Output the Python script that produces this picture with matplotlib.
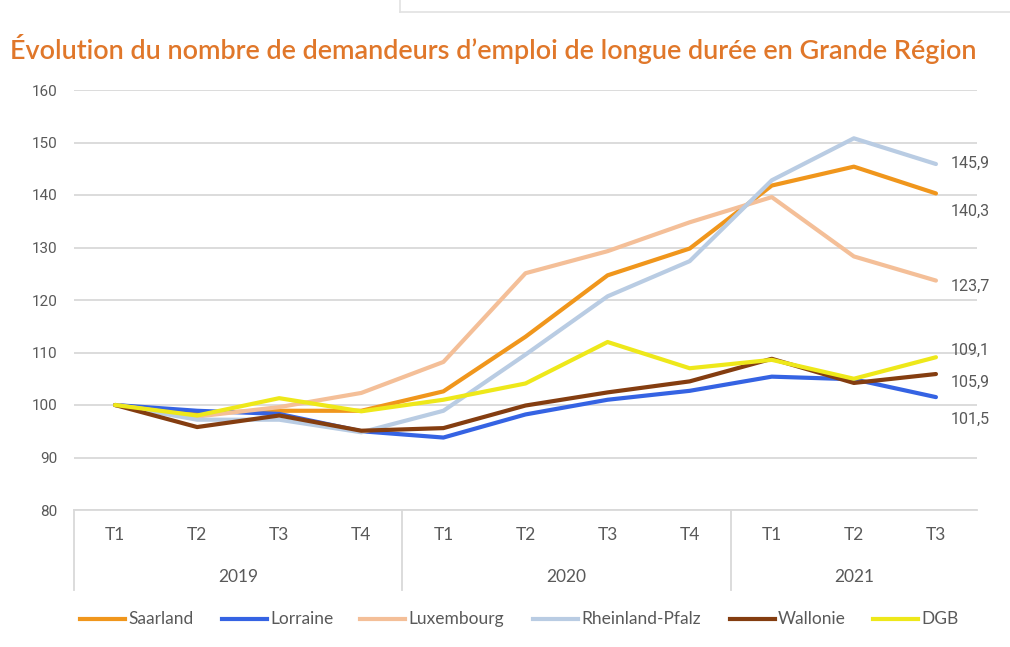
import matplotlib
matplotlib.use("Agg")
import matplotlib.pyplot as plt
from matplotlib.lines import Line2D
from matplotlib import font_manager

# ---------------- data ----------------
quarters = ["T1", "T2", "T3", "T4", "T1", "T2", "T3", "T4", "T1", "T2", "T3"]
years = ["2019", "2020", "2021"]
year_sizes = [4, 4, 3]

saarland = [100, 98.5, 98.9, 98.9, 102.6, 113.0, 124.7, 129.8, 141.8, 145.4, 140.3]
lorraine = [100, 98.9, 98.3, 95.0, 93.8, 98.2, 101.0, 102.7, 105.4, 104.9, 101.5]
luxembourg = [100, 97.8, 99.6, 102.3, 108.2, 125.1, 129.3, 134.8, 139.6, 128.3, 123.7]
rheinland = [100, 97.2, 97.2, 94.8, 98.9, 109.6, 120.7, 127.4, 142.8, 150.8, 145.9]
wallonie = [100, 95.8, 98.0, 95.1, 95.6, 99.9, 102.4, 104.5, 108.8, 104.2, 105.9]
dgb = [100, 98.0, 101.3, 98.8, 101.0, 104.1, 112.0, 107.0, 108.6, 105.0, 109.1]

series_names = ["Saarland", "Lorraine", "Luxembourg", "Rheinland-Pfalz", "Wallonie", "DGB"]
series_values = [saarland, lorraine, luxembourg, rheinland, wallonie, dgb]
series_colors = ["#F0961C", "#3563E3", "#F4BF98", "#B9CCE3", "#843D10", "#EEE81A"]
last_labels = ["140,3", "101,5", "123,7", "145,9", "105,9", "109,1"]
label_offsets_px = [-18, -22, -6, 1, -8, 7]   # vertical offsets of end labels

# ---------------- fonts ----------------
avail = {f.name for f in font_manager.fontManager.ttflist}
narrow = ["Liberation Sans Narrow"] if "Liberation Sans Narrow" in avail else []
cal_font = narrow + ["Lato", "Open Sans", "DejaVu Sans"]
num_font = ["Roboto", "DejaVu Sans"]

W, H = 1010, 647
fig = plt.figure(figsize=(W / 100, H / 100), dpi=100)
fig.patch.set_facecolor("white")

# leftover web-page frame at top
fig.add_artist(Line2D([400 / W, 400 / W], [1, 1 - 12 / H], color="#E2E2E2", lw=1.2))
fig.add_artist(Line2D([400 / W, 1], [1 - 12 / H, 1 - 12 / H], color="#E2E2E2", lw=1.2))

# title
title = fig.text(10 / W, 1 - 49 / H, "Évolution du nombre de demandeurs d\u2019emploi de longue durée en Grande Région",
                 color="#E0772A", fontsize=17, family=cal_font, weight="semibold", va="center", ha="left")
fig.canvas.draw()
bb = title.get_window_extent()
title.set_fontsize(17 * 970 / bb.width)

# axes
ax_left, ax_right, ax_top, ax_bottom = 74, 977, 90, 510
ax = fig.add_axes([ax_left / W, 1 - ax_bottom / H, (ax_right - ax_left) / W, (ax_bottom - ax_top) / H])
ax.set_xlim(-0.5, len(quarters) - 0.5)
ax.set_ylim(80, 160)
ax.set_yticks(range(80, 161, 10))
ax.yaxis.grid(True, color="#D9D9D9", lw=1.3)
ax.set_axisbelow(True)
for s in ["left", "right", "top"]:
    ax.spines[s].set_visible(False)
ax.spines["bottom"].set_color("#D9D9D9")
ax.spines["bottom"].set_linewidth(1.3)
ax.tick_params(axis="y", length=0, pad=12, labelcolor="#595959", labelsize=11)
for lab in ax.get_yticklabels():
    lab.set_family(num_font)
ax.set_xticks([])

x = list(range(len(quarters)))
for name, vals, col in zip(series_names, series_values, series_colors):
    ax.plot(x, vals, color=col, lw=3.0, solid_capstyle="round", solid_joinstyle="round")

# end labels
for vals, lab, off in zip(series_values, last_labels, label_offsets_px):
    ax.annotate(lab, (x[-1], vals[-1]), xytext=(15 * 0.72, off * 0.72), textcoords="offset points",
                ha="left", va="center", color="#595959", fontsize=11.5, family=num_font,
                annotation_clip=False)

# hierarchical category axis
trans = ax.get_xaxis_transform()
ph = ax_bottom - ax_top
for i, q in enumerate(quarters):
    ax.text(i, -(535 - ax_bottom) / ph, q, transform=trans, ha="center", va="center",
            color="#595959", fontsize=12.5, family=cal_font, clip_on=False)
start = 0
bounds = [-0.5]
for yname, n in zip(years, year_sizes):
    mid = start + (n - 1) / 2
    ax.text(mid, -(577 - ax_bottom) / ph, yname, transform=trans, ha="center", va="center",
            color="#595959", fontsize=12.5, family=cal_font, clip_on=False)
    start += n
    bounds.append(start - 0.5)
for b in bounds[:-1]:
    ax.add_line(Line2D([b, b], [0, -(590 - ax_bottom) / ph], transform=trans, color="#D9D9D9",
                       lw=1.3, clip_on=False))

# legend (manual)
leg_y = 1 - 619 / H
leg_x = [80, 222, 360, 533, 730, 873]
for x0, name, col in zip(leg_x, series_names, series_colors):
    fig.add_artist(Line2D([x0 / W, (x0 + 45) / W], [leg_y, leg_y], color=col, lw=3.0))
    fig.text((x0 + 48) / W, leg_y, name, ha="left", va="center", color="#595959",
             fontsize=12.5, family=cal_font)

fig.savefig("out.png", dpi=100, facecolor="white")
